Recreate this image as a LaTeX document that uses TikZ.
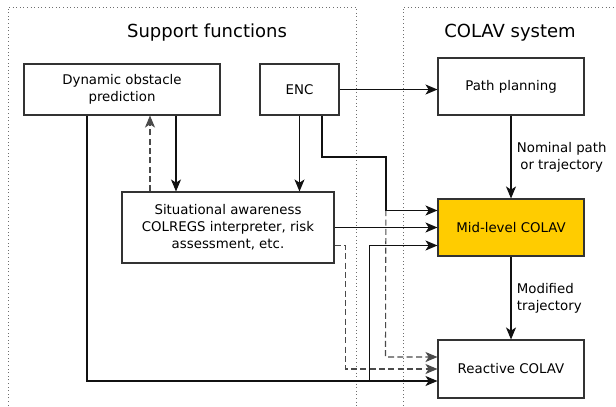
\documentclass[tikz,border=0pt]{standalone}
\usepackage{fontspec}
\setmainfont{DejaVu Sans}
\usetikzlibrary{arrows.meta,positioning,calc}
\definecolor{Ink}{HTML}{111111}
\definecolor{Edge}{HTML}{333333}
\definecolor{Gold}{HTML}{FFCC00}
\definecolor{Muted}{HTML}{4A4A4A}
\definecolor{Frame}{HTML}{6E6E6E}
\tikzset{
 box/.style={draw=Edge,fill=white,line width=0.8pt,align=center,font=\fontsize{10}{12.6}\selectfont,inner sep=2pt},
 hot/.style={box,fill=Gold},
 arr/.style={-{Stealth[length=9pt,width=7.5pt,inset=2.4pt]},line width=0.8pt,draw=Ink},
 dep/.style={arr,dashed,dash pattern=on 4.5pt off 2.5pt,draw=Muted},
 frame/.style={dotted,draw=Frame,line width=0.7pt},
 head/.style={font=\fontsize{13.5}{16}\selectfont},
 lab/.style={align=center,font=\fontsize{10}{12.6}\selectfont,anchor=west,inner sep=0pt}
}
\begin{document}
\begin{tikzpicture}[x=0.75pt,y=-0.75pt]
\useasboundingbox (0,0) rectangle (616,406);
% Two groups, open at the bottom and the right.
\draw[frame] (8,420) |- (356,7) -- (356,420);
\draw[frame] (403,420) |- (630,7);
\node[head] (hsup) at (207,33) {Support functions};
\node[head] (hcol) at (510,33) {COLAV system};
% Blocks.
\node[box,minimum width=196*0.75pt,minimum height=51*0.75pt] (dop) at (122,89.5) {Dynamic obstacle\\prediction};
\node[box,minimum width=79*0.75pt,minimum height=51*0.75pt] (enc) at (299.5,89.5) {ENC};
\node[box,minimum width=212*0.75pt,minimum height=71*0.75pt] (sa) at (228,227.5) {Situational awareness\\COLREGS interpreter, risk\\assessment, etc.};
\node[box,minimum width=146*0.75pt,minimum height=57*0.75pt] (pp) at (511,86.5) {Path planning};
\node[hot,minimum width=146*0.75pt,minimum height=57*0.75pt] (mid) at (511,227.5) {Mid-level COLAV};
\node[box,minimum width=146*0.75pt,minimum height=58*0.75pt] (rea) at (511,369) {Reactive COLAV};
% Flow inside the COLAV system.
\draw[arr] (enc) -- (enc -| pp.west);
\draw[arr] (pp.south) -- node[lab,xshift=4pt] (nlab) {Nominal path\\or trajectory} (mid.north);
\draw[arr] (mid.south) -- node[lab,xshift=4pt,align=left] (mlab) {Modified\\trajectory} (rea.north);
% Support functions feeding in.
\draw[arr] (176,0 |- dop.south) -- (176,0 |- sa.north);
\draw[dep] (150,0 |- sa.north) -- (150,0 |- dop.south);
\draw[arr] (enc.south) -- (enc.south |- sa.north);
\draw[arr] (87,0 |- dop.south) |- ($(rea.west)+(0,12)$);
\draw[arr] ($(rea.west)+(-68,12)$) |- ($(mid.west)+(0,18)$);
\draw[dep] (322,0 |- enc.south) |- (386,157) -- ($(rea.west)+(-52,-12)$) -- ($(rea.west)+(0,-12)$);
\draw[arr] (322,0 |- enc.south) |- (386,157) |- ($(mid.west)+(0,-17)$);
\draw[arr] (sa.east) -- (sa.east -| mid.west);
\draw[dep] ($(sa.east)+(0,18)$) -- ++(11,0) |- (rea.west);
\end{tikzpicture}
\end{document}
